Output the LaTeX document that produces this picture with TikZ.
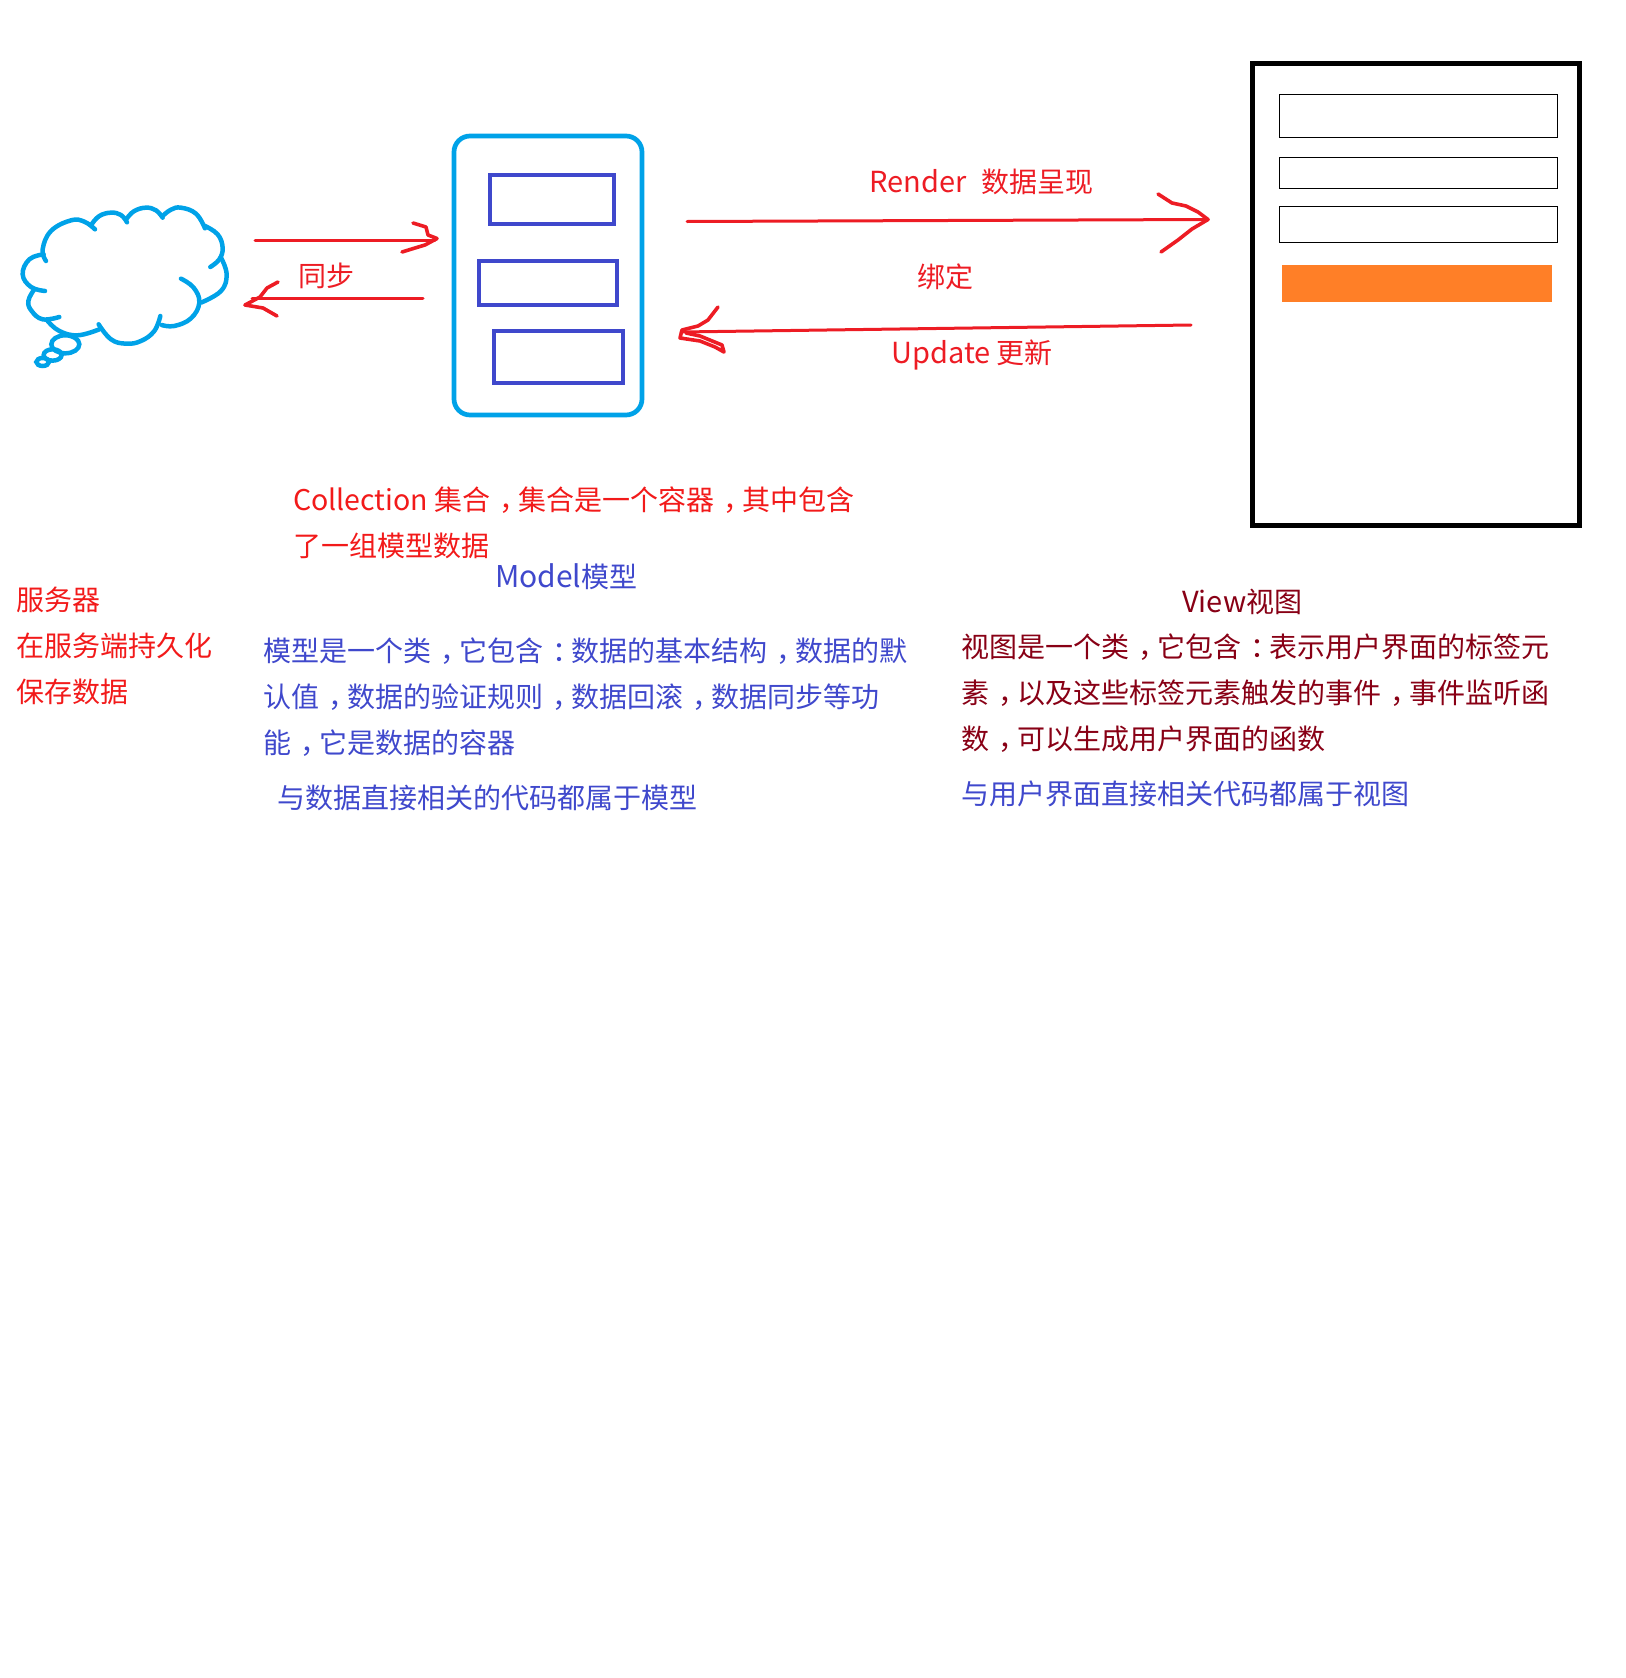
\documentclass[tikz,border=0pt]{standalone}
\usepackage{fontspec}
\setmainfont{Noto Sans CJK SC}
\definecolor{arrowred}{HTML}{ED1C24}
\definecolor{pureRed}{HTML}{F21A1A}
\definecolor{skyb}{HTML}{00A2E8}
\definecolor{indigo}{HTML}{3F48CC}
\definecolor{darkred}{HTML}{880015}
\definecolor{orangefill}{HTML}{FF7F27}
\newcommand{\cm}{\makebox[1em][l]{\hspace{.34em}，}}
\newcommand{\cn}{\makebox[1em][l]{\hspace{.34em}：}}
\newcommand{\lat}[1]{{\fontsize{29}{34}\selectfont #1}}
\newcommand{\latc}[1]{{\fontsize{28.5}{34}\selectfont #1}}
\newcommand{\latb}[1]{{\fontsize{30}{34}\selectfont #1}}
\tikzset{
  txt/.style={anchor=base west,inner sep=0pt,font=\fontsize{28}{34}\selectfont},
  redarrow/.style={draw=arrowred,line width=3pt,line cap=round,line join=round},
  redhead/.style={draw=arrowred,line width=3.6pt,line cap=round,line join=round},
  cloudline/.style={draw=skyb,line width=4.5pt,line cap=round},
  innerbox/.style={draw=indigo,line width=4.7pt},
  thinbox/.style={draw=black,line width=1pt},
}
\begin{document}
\begin{tikzpicture}[x=1pt,y=-1pt]
\useasboundingbox (0,0) rectangle (1625,1678);
% cloud (server)
\begin{scope}[shift={(1,181)},x=.3333pt,y=-.3333pt]
\draw[cloudline] plot[smooth,tension=.7] coordinates {(135,240)(125,205)(150,150)(210,118)(250,122)(282,145)};
\draw[cloudline] plot[smooth,tension=.7] coordinates {(272,130)(295,105)(330,95)(360,102)(378,124)};
\draw[cloudline] plot[smooth,tension=.7] coordinates {(378,112)(400,90)(435,80)(465,88)(485,110)};
\draw[cloudline] plot[smooth,tension=.7] coordinates {(485,105)(510,86)(540,80)(585,98)(612,142)};
\draw[cloudline] plot[smooth,tension=.7] coordinates {(612,135)(650,160)(665,200)(655,235)(628,258)};
\draw[cloudline] plot[smooth,tension=.7] coordinates {(660,230)(677,280)(660,330)(600,365)};
\draw[cloudline] plot[smooth,tension=.7] coordinates {(540,293)(578,320)(595,365)(570,412)(520,435)(482,432)};
\draw[cloudline] plot[smooth,tension=.7] coordinates {(478,405)(460,450)(420,480)(375,488)(330,475)(293,430)};
\draw[cloudline] plot[smooth,tension=.7] coordinates {(295,445)(230,463)(175,450)(140,420)};
\draw[cloudline] plot[smooth,tension=.7] coordinates {(175,408)(125,415)(92,390)(82,360)(100,325)};
\draw[cloudline] plot[smooth,tension=.7] coordinates {(132,330)(90,318)(65,280)(85,235)(128,220)};
\draw[cloudline] (193,490) ellipse [x radius=42,y radius=27];
\draw[cloudline] (155,522) ellipse [x radius=27,y radius=17];
\draw[cloudline] (125,543) ellipse [x radius=19,y radius=12];
\end{scope}
% collection box
\node[draw=skyb,line width=4.7pt,rounded corners=16pt,minimum width=188pt,minimum height=279pt,inner sep=0pt] (coll) at (548,275.5) {};
\draw[innerbox] (490,175) rectangle (614,224);
\draw[innerbox] (479,261) rectangle (617,305);
\draw[innerbox] (494,331) rectangle (623,383);
% view
\node[draw=black,line width=5.2pt,minimum width=327pt,minimum height=462pt,inner sep=0pt] (view) at (1416,294.5) {};
\draw[thinbox] (1279.5,94.5) rectangle (1557.5,137.5);
\draw[thinbox] (1279.5,157.5) rectangle (1557.5,188.5);
\draw[thinbox] (1279.5,206.5) rectangle (1557.5,242.5);
\fill[orangefill] (1282,265) rectangle (1552,302);
% arrows
\coordinate (s1) at (255,240.5);
\coordinate (s2) at (435,240.5);
\coordinate (s3) at (423,298.5);
\coordinate (s4) at (252,298.5);
\coordinate (r1) at (687,221.5);
\coordinate (r2) at (1208,219.5);
\coordinate (u1) at (1191,325);
\coordinate (u2) at (681,332);
\draw[redarrow] (s1)--(s2);
\draw[redhead] plot coordinates {(413,223)(426,227)(428,235)(437,238.5)(425,245)(415,248)(402,252)};
\draw[redarrow] (s3)--(s4);
\draw[redhead] plot coordinates {(278,282)(267,288)(260,297)(245,305)(263,308)(277,316)};
\draw[redarrow] (r1)--(r2);
\draw[redhead] plot coordinates {(1158,194)(1172,203)(1186,206)(1198,212)(1208,219.5)(1192,229)(1178,240)(1161,252)};
\draw[redarrow] (u1)--(u2);
\draw[redhead] plot coordinates {(718,307)(708,320)(698,326)(682,330)(680,338)(700,341)(715,347)(724,352)(722,345)(700,336)(686,333)};
% labels
\node[txt,text=arrowred] (n1) at (869,192) {\lat{Render}\hspace{.55em}数据呈现};
\node[txt,text=arrowred] (n2) at (917,287.5) {绑定};
\node[txt,text=arrowred] (n3) at (891,363) {\lat{Update} 更新};
\node[txt,text=arrowred] (n4) at (298,286) {同步};
\node[txt,text=pureRed] (c1) at (293,510) {\latc{Collection} 集合\cm 集合是一个容器\cm 其中包含};
\node[txt,text=pureRed] (c2) at (293,556) {了一组模型数据};
\node[txt,text=indigo] (m0) at (495,587) {\latb{Model}模型};
\node[txt,text=pureRed] (a1) at (16,610) {服务器};
\node[txt,text=pureRed] (a2) at (16,656.5) {在服务端持久化};
\node[txt,text=pureRed] (a3) at (16,702.5) {保存数据};
\node[txt,text=indigo] (m1) at (263,661) {模型是一个类\cm 它包含\cn 数据的基本结构\cm 数据的默};
\node[txt,text=indigo] (m2) at (263,707) {认值\cm 数据的验证规则\cm 数据回滚\cm 数据同步等功};
\node[txt,text=indigo] (m3) at (263,753) {能\cm 它是数据的容器};
\node[txt,text=indigo] (m4) at (277,808) {与数据直接相关的代码都属于模型};
\node[txt,text=darkred] (v0) at (1182,612) {\lat{View}视图};
\node[txt,text=darkred] (v1) at (961,657) {视图是一个类\cm 它包含\cn 表示用户界面的标签元};
\node[txt,text=darkred] (v2) at (961,703) {素\cm 以及这些标签元素触发的事件\cm 事件监听函};
\node[txt,text=darkred] (v3) at (961,749) {数\cm 可以生成用户界面的函数};
\node[txt,text=indigo] (v4) at (961,804.5) {与用户界面直接相关代码都属于视图};
\end{tikzpicture}
\end{document}
